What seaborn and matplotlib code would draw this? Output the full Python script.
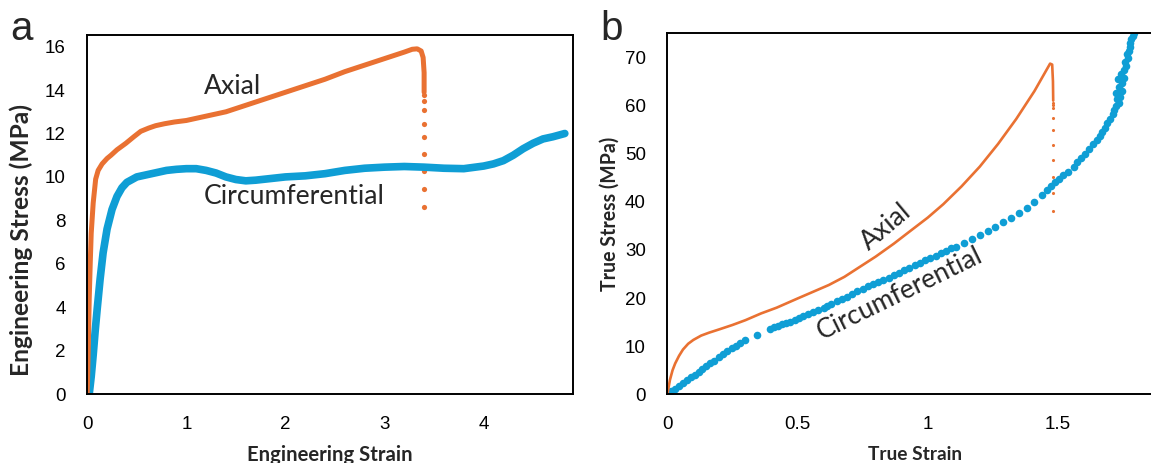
import matplotlib
matplotlib.use("Agg")
import matplotlib.pyplot as plt
import seaborn as sns
import pandas as pd

ORANGE = "#E97132"
BLUE = "#0F9ED5"

# (a) engineering stress-strain, axial
ax_eng_strain = [0, 0.01, 0.02, 0.03, 0.04, 0.06, 0.085, 0.11, 0.15, 0.2, 0.24, 0.3,
                 0.39, 0.47, 0.54, 0.62, 0.69, 0.78, 0.88, 1.0, 1.2, 1.4, 1.6, 1.8,
                 2.0, 2.2, 2.4, 2.6, 2.8, 3.0, 3.1, 3.2, 3.28, 3.33, 3.37, 3.39,
                 3.40, 3.40]
ax_eng_stress = [0, 2.0, 4.4, 6.0, 7.4, 8.8, 9.9, 10.3, 10.6, 10.85, 11.0, 11.25,
                 11.55, 11.85, 12.1, 12.25, 12.36, 12.45, 12.53, 12.6, 12.8, 13.0,
                 13.3, 13.6, 13.9, 14.2, 14.5, 14.85, 15.15, 15.45, 15.6, 15.75,
                 15.88, 15.9, 15.8, 15.5, 14.8, 13.9]
ax_eng_drop_strain = [3.40, 3.40, 3.40, 3.40, 3.40, 3.40, 3.40, 3.40, 3.40]
ax_eng_drop_stress = [13.78, 13.48, 13.06, 12.43, 11.82, 11.06, 10.26, 9.45, 8.62]

# (a) engineering stress-strain, circumferential
circ_eng_strain = [0.02, 0.04, 0.06, 0.08, 0.1, 0.13, 0.16, 0.2, 0.25, 0.3, 0.35,
                   0.4, 0.5, 0.6, 0.7, 0.8, 0.9, 1.0, 1.1, 1.2, 1.3, 1.4, 1.5, 1.6,
                   1.7, 1.8, 2.0, 2.2, 2.4, 2.6, 2.8, 3.0, 3.2, 3.4, 3.6, 3.8, 4.0,
                   4.1, 4.2, 4.3, 4.4, 4.5, 4.6, 4.7, 4.82]
circ_eng_stress = [0, 0.8, 1.8, 2.9, 3.9, 5.3, 6.5, 7.6, 8.5, 9.1, 9.5, 9.75, 10.0,
                   10.1, 10.2, 10.3, 10.35, 10.38, 10.38, 10.3, 10.18, 10.0, 9.88,
                   9.82, 9.85, 9.9, 10.0, 10.05, 10.15, 10.3, 10.4, 10.45, 10.48,
                   10.45, 10.4, 10.38, 10.5, 10.6, 10.75, 11.0, 11.3, 11.55, 11.75,
                   11.85, 12.0]

# (b) true stress-strain, axial
ax_true_strain = [0, 0.005, 0.01, 0.02, 0.03, 0.045, 0.06, 0.08, 0.1, 0.13, 0.16,
                  0.2, 0.25, 0.3, 0.36, 0.42, 0.5, 0.56, 0.62, 0.68, 0.74, 0.8,
                  0.87, 0.93, 1.0, 1.06, 1.13, 1.2, 1.27, 1.34, 1.41, 1.45, 1.47,
                  1.478, 1.481, 1.482]
ax_true_stress = [0, 1.5, 3.0, 5.0, 6.4, 8.0, 9.3, 10.5, 11.3, 12.2, 12.8, 13.5,
                  14.4, 15.4, 16.8, 18.0, 19.9, 21.3, 22.7, 24.4, 26.5, 28.6, 31.3,
                  33.8, 36.7, 39.5, 43.2, 47.3, 52.0, 57.2, 63.0, 66.8, 68.7, 68.5,
                  65.0, 61.0]
ax_true_drop_strain = [1.481, 1.481, 1.481, 1.481, 1.481, 1.481, 1.481, 1.481,
                       1.481, 1.481]
ax_true_drop_stress = [60.6, 60.2, 59.5, 57.4, 54.9, 51.8, 48.7, 45.2, 41.8, 38.0]

# (b) true stress-strain, circumferential (individual markers)
circ_true_strain = [0.000, 0.015, 0.030, 0.045, 0.060, 0.075, 0.090, 0.105, 0.120,
                    0.135, 0.150, 0.165, 0.180, 0.200, 0.215, 0.230, 0.250, 0.265,
                    0.280, 0.300, 0.345, 0.395, 0.410, 0.425, 0.440, 0.455, 0.470,
                    0.490, 0.505, 0.520, 0.540, 0.560, 0.580, 0.600, 0.615, 0.630,
                    0.650, 0.670, 0.690, 0.710, 0.730, 0.750, 0.770, 0.790, 0.810,
                    0.830, 0.850, 0.870, 0.890, 0.910, 0.930, 0.950, 0.970, 0.990,
                    1.010, 1.030, 1.050, 1.070, 1.090, 1.110, 1.140, 1.170, 1.200,
                    1.230, 1.260, 1.290, 1.320, 1.350, 1.380, 1.410, 1.440, 1.460,
                    1.475, 1.490, 1.505, 1.520, 1.540, 1.560, 1.575, 1.590, 1.605,
                    1.620, 1.635, 1.650, 1.660, 1.670, 1.680, 1.690, 1.700, 1.710,
                    1.715, 1.725, 1.735, 1.728, 1.740, 1.722, 1.745, 1.735, 1.745,
                    1.732, 1.752, 1.742, 1.755, 1.762, 1.758, 1.768, 1.765, 1.772,
                    1.778, 1.775, 1.782, 1.788, 1.792]
circ_true_stress = [0.0, 0.6, 1.2, 1.8, 2.4, 2.9, 3.5, 4.1, 4.7, 5.3, 5.9, 6.4, 7.0,
                    7.8, 8.4, 9.0, 9.6, 10.1, 10.6, 11.2, 12.3, 13.6, 13.9, 14.2,
                    14.5, 14.8, 15.1, 15.5, 15.9, 16.3, 16.7, 17.1, 17.5, 18.0, 18.4,
                    18.8, 19.3, 19.8, 20.3, 20.8, 21.4, 21.9, 22.4, 22.9, 23.4, 23.8,
                    24.2, 24.7, 25.3, 25.8, 26.3, 26.8, 27.3, 27.8, 28.3, 28.8, 29.3,
                    29.8, 30.3, 30.7, 31.4, 32.3, 33.1, 33.9, 34.7, 35.7, 36.6, 37.6,
                    38.7, 39.9, 41.4, 42.5, 43.3, 44.1, 44.8, 45.5, 46.2, 47.2, 48.2,
                    49.1, 50.0, 51.0, 51.9, 52.8, 53.6, 54.5, 55.4, 56.3, 57.2, 58.2,
                    59.0, 59.8, 60.5, 61.3, 61.8, 62.5, 63.0, 63.8, 64.6, 65.4, 65.8,
                    66.5, 67.3, 68.2, 69.0, 69.8, 70.6, 71.4, 72.2, 73.0, 73.8, 74.5,
                    75.0]

sns.set_style("white")
plt.rcParams['font.family'] = ['Liberation Sans', 'DejaVu Sans']

TICK_FS = 13.5
LABEL_FONT = 'Lato'
NOTE_FONT = 'Lato'


def style_axes(ax):
    for s in ax.spines.values():
        s.set_color('black')
        s.set_linewidth(1.4)
    ax.tick_params(direction='inout', length=10, width=1.2, pad=10.5,
                   labelsize=TICK_FS, colors='black')


def fit_text(fig, txt, target_px, along='width'):
    # scale the font so the drawn text spans target_px pixels
    renderer = fig.canvas.get_renderer()
    bb = txt.get_window_extent(renderer=renderer)
    size = bb.width if along == 'width' else bb.height
    txt.set_fontsize(txt.get_fontsize() * target_px / size)
    return txt.get_fontsize()


fig = plt.figure(figsize=(11.51, 4.63), dpi=100)
axa = fig.add_axes([0.0758, 0.149, 0.4218, 0.776])
axb = fig.add_axes([0.5798, 0.1484, 0.4298, 0.7797])

# panel a
df_ax_eng = pd.DataFrame({'strain': ax_eng_strain, 'stress': ax_eng_stress})
df_circ_eng = pd.DataFrame({'strain': circ_eng_strain, 'stress': circ_eng_stress})
sns.lineplot(data=df_circ_eng, x='strain', y='stress', sort=False, estimator=None,
             color=BLUE, lw=5.5, solid_capstyle='round', ax=axa)
sns.lineplot(data=df_ax_eng, x='strain', y='stress', sort=False, estimator=None,
             color=ORANGE, lw=3.6, solid_capstyle='round', ax=axa)
sns.scatterplot(x=ax_eng_drop_strain, y=ax_eng_drop_stress, color=ORANGE, s=14,
                linewidth=0, ax=axa)
axa.set_xlim(0, 4.9)
axa.set_ylim(0, 16.55)
axa.set_xticks([0, 1, 2, 3, 4])
axa.set_yticks(range(0, 17, 2))
style_axes(axa)
axa.set_xlabel('Engineering Strain', fontsize=14, fontweight='bold', family=LABEL_FONT)
axa.set_ylabel('Engineering Stress (MPa)', fontsize=14, fontweight='bold', family=LABEL_FONT)
axa.xaxis.set_label_coords(0.5, -0.142)
axa.xaxis.label.set_va('top')
axa.yaxis.set_label_coords(-0.112, 0.43)
note_a1 = axa.text(1.174, 14.15, 'Axial', fontsize=17, family=NOTE_FONT, va='center', ha='left')
note_a2 = axa.text(1.174, 9.12, 'Circumferential', fontsize=17, family=NOTE_FONT, va='center', ha='left')

# panel b
df_ax_true = pd.DataFrame({'strain': ax_true_strain, 'stress': ax_true_stress})
df_circ_true = pd.DataFrame({'strain': circ_true_strain, 'stress': circ_true_stress})
sns.scatterplot(data=df_circ_true, x='strain', y='stress', color=BLUE, s=30,
                linewidth=0, ax=axb)
sns.lineplot(data=df_ax_true, x='strain', y='stress', sort=False, estimator=None,
             color=ORANGE, lw=1.9, ax=axb)
sns.scatterplot(x=ax_true_drop_strain, y=ax_true_drop_stress, color=ORANGE, s=5,
                linewidth=0, ax=axb)
axb.set_xlim(0, 1.9)
axb.set_ylim(0, 75)
axb.set_xticks([0, 0.5, 1, 1.5])
axb.set_xticklabels(['0', '0.5', '1', '1.5'])
axb.set_yticks(range(0, 71, 10))
style_axes(axb)
axb.set_xlabel('True Strain', fontsize=14, fontweight='bold', family=LABEL_FONT)
axb.set_ylabel('True Stress (MPa)', fontsize=14, fontweight='bold', family=LABEL_FONT)
axb.xaxis.set_label_coords(0.5, -0.142)
axb.xaxis.label.set_va('top')
axb.yaxis.set_label_coords(-0.0956, 0.5)

fig.text(10 / 1151, 1 - 40 / 463, 'a', fontsize=29, va='baseline', ha='left')
fig.text(600 / 1151, 1 - 40 / 463, 'b', fontsize=29, va='baseline', ha='left')

# match text lengths measured on the reference
fig.canvas.draw()
fit_text(fig, axa.xaxis.label, 166)
fit_text(fig, axa.yaxis.label, 274, along='height')
fit_text(fig, axb.xaxis.label, 95)
fit_text(fig, axb.yaxis.label, 155, along='height')
note_fs = fit_text(fig, note_a2, 181)
note_a1.set_fontsize(note_fs)

axb.text(0.84, 34.8, 'Axial', fontsize=note_fs, family=NOTE_FONT, rotation=40,
         rotation_mode='anchor', va='center', ha='center')
axb.text(0.893, 21.0, 'Circumferential', fontsize=note_fs, family=NOTE_FONT, rotation=26,
         rotation_mode='anchor', va='center', ha='center')

fig.savefig('out.png', dpi=100)
